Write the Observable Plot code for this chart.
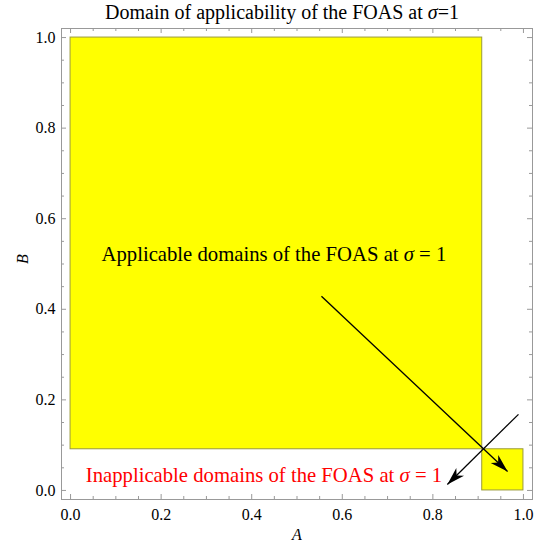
<!DOCTYPE html>
<html><head><meta charset="utf-8">
<script src="https://cdn.jsdelivr.net/npm/d3@7"></script>
<script src="https://cdn.jsdelivr.net/npm/@observablehq/plot@0.6"></script>
<style>body{margin:0;background:#fff}</style>
</head><body><div id="chart"></div>
<script>
// ---- data ----
const titleText = "Domain of applicability of the FOAS at σ=1";
const xLabel = "A";
const yLabel = "B";
const majorTicks = [0, 0.2, 0.4, 0.6, 0.8, 1.0];
const minorTicks = [0.05, 0.1, 0.15, 0.25, 0.3, 0.35, 0.45, 0.5, 0.55, 0.65, 0.7, 0.75, 0.85, 0.9, 0.95];
// applicable regions (yellow)
const regionA1 = [0, 0.909];
const regionA2 = [0.909, 1.0];
const regionB1 = [0.0909, 0];
const regionB2 = [1.0, 0.0909];
// arrows
const arrowA1 = [0.554, 0.989];
const arrowB1 = [0.429, 0.168];
const arrowA2 = [0.965, 0.832];
const arrowB2 = [0.042, 0.013];
// annotations
const labelTexts = ["Applicable domains of the FOAS at σ = 1", "Inapplicable domains of the FOAS at σ = 1"];
const labelA = [0.449, 0.427];
const labelB = [0.522, 0.033];
const labelColors = ["black", "red"];

// ---- layout ----
const W = 550, H = 551;
const mL = 61, mR = 18, mT = 28, mB = 52;
const xDom = [-0.02, 1.02], yDom = [-0.02, 1.02];
const fw = W - mL - mR, fh = H - mT - mB;
const kx = fw / (xDom[1] - xDom[0]), ky = fh / (yDom[1] - yDom[0]);
const font = "'Liberation Serif', 'Times New Roman', serif";
const fmt = d3.format(".1f");

const regions = regionA1.map((d, i) => ({a1: d, a2: regionA2[i], b1: regionB1[i], b2: regionB2[i]}));
const arrows = arrowA1.map((d, i) => {
  const a = {a1: d, b1: arrowB1[i], a2: arrowA2[i], b2: arrowB2[i]};
  a.theta = Math.atan2(-(a.b2 - a.b1) * ky, (a.a2 - a.a1) * kx);
  return a;
});
const labels = labelTexts.map((t, i) => ({t, a: labelA[i], b: labelB[i], c: labelColors[i]}));

function headSymbol(theta) {
  const L = 18, Wd = 5.5, N = 13;
  const ux = Math.cos(theta), uy = Math.sin(theta);
  const nx = -uy, ny = ux;
  return {draw(ctx) {
    ctx.moveTo(0, 0);
    ctx.lineTo(-L * ux + Wd * nx, -L * uy + Wd * ny);
    ctx.lineTo(-N * ux, -N * uy);
    ctx.lineTo(-L * ux - Wd * nx, -L * uy - Wd * ny);
    ctx.closePath();
  }};
}

const tickColor = "#999";
const majLen = 5, minLen = 3;

const plot = Plot.plot({
  width: W, height: H,
  marginLeft: mL, marginRight: mR, marginTop: mT, marginBottom: mB,
  style: {fontFamily: font, fontSize: "16px", background: "white", color: "black"},
  x: {domain: xDom, label: null, axis: null},
  y: {domain: yDom, label: null, axis: null},
  marks: [
    Plot.rect(regions, {x1: "a1", x2: "a2", y1: "b1", y2: "b2", fill: "#ffff00", stroke: "#9a9a3a", strokeWidth: 1}),
    Plot.frame({stroke: tickColor}),
    Plot.tickX(majorTicks, {x: d => d, insetTop: fh - majLen, stroke: tickColor}),
    Plot.tickX(minorTicks, {x: d => d, insetTop: fh - minLen, stroke: tickColor}),
    Plot.tickX(majorTicks, {x: d => d, insetBottom: fh - majLen, stroke: tickColor}),
    Plot.tickX(minorTicks, {x: d => d, insetBottom: fh - minLen, stroke: tickColor}),
    Plot.tickY(majorTicks, {y: d => d, insetRight: fw - majLen, stroke: tickColor}),
    Plot.tickY(minorTicks, {y: d => d, insetRight: fw - minLen, stroke: tickColor}),
    Plot.tickY(majorTicks, {y: d => d, insetLeft: fw - majLen, stroke: tickColor}),
    Plot.tickY(minorTicks, {y: d => d, insetLeft: fw - minLen, stroke: tickColor}),
    // tick labels
    Plot.text(majorTicks, {x: d => d, frameAnchor: "bottom", dy: 15, text: d => fmt(d), fontSize: 16, fontFamily: font, lineAnchor: "middle"}),
    Plot.text(majorTicks, {y: d => d, frameAnchor: "left", dx: -6, text: d => fmt(d), fontSize: 16, fontFamily: font, textAnchor: "end", lineAnchor: "middle"}),
    Plot.link(arrows, {x1: "a1", y1: "b1", x2: "a2", y2: "b2", stroke: "black", strokeWidth: 1.3}),
    ...arrows.map(a => Plot.dot([a], {x: "a2", y: "b2", symbol: headSymbol(a.theta), fill: "black", stroke: "none", r: 6})),
    Plot.text(labels, {x: "a", y: "b", text: "t", fill: "c", fontSize: 20.7, fontFamily: font, textAnchor: "middle"}),
    Plot.text([titleText], {frameAnchor: "top", dy: -16, dx: -15, fontSize: 20, fontFamily: font, lineAnchor: "middle"}),
    Plot.text([xLabel], {frameAnchor: "bottom", dy: 35, fontSize: 16, fontFamily: font, fontStyle: "italic", lineAnchor: "middle"}),
    Plot.text([yLabel], {frameAnchor: "left", dx: -39, rotate: -90, fontSize: 16, fontFamily: font, fontStyle: "italic", lineAnchor: "middle"})
  ]
});

// italicize sigma
d3.select(plot).selectAll("text").each(function() {
  const el = this;
  if (el.querySelector("tspan")) return;
  const s = el.textContent;
  if (!s.includes("σ")) return;
  const parts = s.split("σ");
  el.textContent = "";
  parts.forEach((p, i) => {
    if (i > 0) {
      const ts = document.createElementNS("http://www.w3.org/2000/svg", "tspan");
      ts.setAttribute("font-style", "italic");
      ts.textContent = "σ";
      el.appendChild(ts);
    }
    el.appendChild(document.createTextNode(p));
  });
});

document.getElementById("chart").appendChild(plot);
</script>
</body></html>
